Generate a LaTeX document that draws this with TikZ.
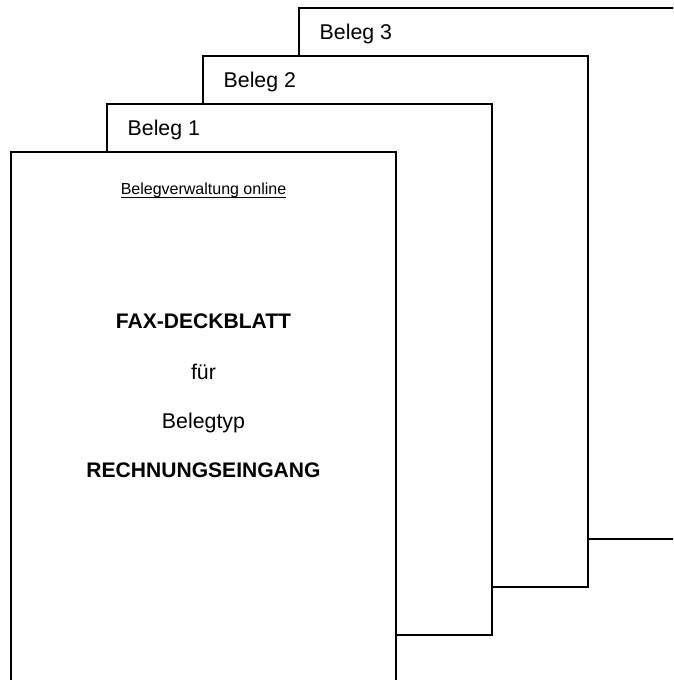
\documentclass[tikz,border=0pt]{standalone}
\usepackage{fontspec}
\setmainfont{Liberation Sans}
\usepackage{tikz}
\usetikzlibrary{positioning, calc}

\begin{document}
\begin{tikzpicture}[
    x=0.75pt, y=-0.75pt,
    every node/.style={inner sep=0pt, outer sep=0pt},
    page/.style={rectangle, draw=black, fill=white, line width=1.2pt, anchor=north west, minimum width=288.75pt, minimum height=398.25pt},
    tab/.style={anchor=base west, font=\fontsize{16}{19}\selectfont},
    head/.style={anchor=base, font=\fontsize{12}{14}\selectfont},
    title/.style={anchor=base, font=\fontsize{15.8}{19}\selectfont\bfseries},
    line/.style={anchor=base, font=\fontsize{16}{19}\selectfont}
]
\useasboundingbox (0,0) rectangle (673,680);
\clip (0,0) rectangle (673,680);
% stacked receipts, back to front
\foreach \i/\px/\py in {3/299/8, 2/203/56, 1/107/104} {
    \node[page] (beleg\i) at (\px,\py) {};
    \node[tab] (label\i) at ([xshift=15.5pt, yshift=-24pt]beleg\i.north west) {Beleg \i};
}
% fax cover sheet
\node[page] (deckblatt) at (11,152) {};
\node[head] (portal) at ([yshift=-32.25pt]deckblatt.north) {Belegverwaltung online};
\draw[line width=0.9pt] ([yshift=-1.6pt]portal.base west) -- ([yshift=-1.6pt]portal.base east);
\node[title] (fax) at ([yshift=-132pt]deckblatt.north) {FAX-DECKBLATT};
\node[line] (fuer) at ([yshift=-170.25pt]deckblatt.north) {für};
\node[line] (typ) at ([yshift=-207pt]deckblatt.north) {Belegtyp};
\node[title] (eingang) at ([yshift=-243.75pt]deckblatt.north) {RECHNUNGSEINGANG};
\end{tikzpicture}
\end{document}
